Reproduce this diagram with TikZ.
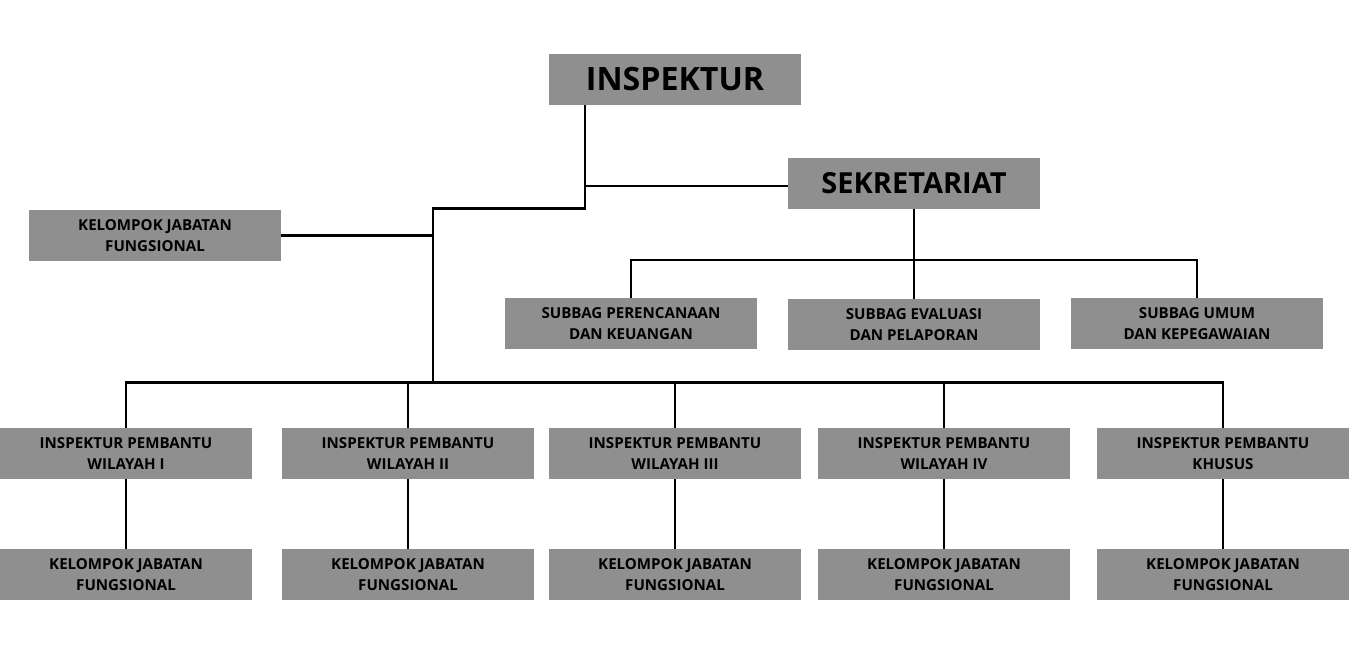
\documentclass[tikz,border=0pt]{standalone}
\usepackage{fontspec}
\setmainfont{Open Sans}
\definecolor{boxgray}{RGB}{143,143,143}
\begin{document}
\begin{tikzpicture}[x=0.2mm, y=-0.2mm,
    unit/.style={fill=boxgray, inner sep=0pt, minimum width=5.04cm, minimum height=1.02cm,
        align=center, font=\fontsize{8.6}{12.3}\selectfont\bfseries},
    head/.style={unit, font=\fontsize{18.3}{20}\selectfont\bfseries},
    link/.style={line width=1.2pt}]
    \useasboundingbox (0,0) rectangle (1350,650);
    % top level
    \node[head] (insp) at (675,79) {INSPEKTUR};
    \node[head, font=\fontsize{16.5}{20}\selectfont\bfseries] (sek) at (914,183.5) {SEKRETARIAT};
    \node[unit] (kjf) at (155,235.5) {KELOMPOK JABATAN\\FUNGSIONAL};
    % subbag
    \node[unit] (sub1) at (631,323.5) {SUBBAG PERENCANAAN\\DAN KEUANGAN};
    \node[unit] (sub2) at (914,324.5) {SUBBAG EVALUASI\\DAN PELAPORAN};
    \node[unit] (sub3) at (1197,323.5) {SUBBAG UMUM\\DAN KEPEGAWAIAN};
    % inspektur pembantu
    \node[unit] (ip1) at (126,453.5) {INSPEKTUR PEMBANTU\\WILAYAH I};
    \node[unit] (ip2) at (408,453.5) {INSPEKTUR PEMBANTU\\WILAYAH II};
    \node[unit] (ip3) at (675,453.5) {INSPEKTUR PEMBANTU\\WILAYAH III};
    \node[unit] (ip4) at (944,453.5) {INSPEKTUR PEMBANTU\\WILAYAH IV};
    \node[unit] (ip5) at (1223,453.5) {INSPEKTUR PEMBANTU\\KHUSUS};
    % kelompok jabatan fungsional
    \node[unit] (kb1) at (126,574.5) {KELOMPOK JABATAN\\FUNGSIONAL};
    \node[unit] (kb2) at (408,574.5) {KELOMPOK JABATAN\\FUNGSIONAL};
    \node[unit] (kb3) at (675,574.5) {KELOMPOK JABATAN\\FUNGSIONAL};
    \node[unit] (kb4) at (944,574.5) {KELOMPOK JABATAN\\FUNGSIONAL};
    \node[unit] (kb5) at (1223,574.5) {KELOMPOK JABATAN\\FUNGSIONAL};

    % junctions
    \coordinate (j1) at (585,186);
    \coordinate (j2) at (585,208.5);
    \coordinate (j3) at (433,208.5);
    \coordinate (j4) at (433,382.5);
    \coordinate (sb) at (914,260);

    % lines
    \draw[link] (insp.south -| j1) -- (j2) -- (j3) -- (j4);
    \draw[link] (j1) -- (sek.west |- j1);
    \draw[link] (kjf.east) -- (kjf.east -| j3);
    \draw[link] (sek.south) -- (sb);
    \draw[link] (sub1.north) |- (sb) -| (sub3.north);
    \draw[link] (sb) -- (sub2.north);
    \draw[link] (ip1.north) |- (j4) -| (ip5.north);
    \draw[link] (ip2.north) -- (ip2.north |- j4);
    \draw[link] (ip3.north) -- (ip3.north |- j4);
    \draw[link] (ip4.north) -- (ip4.north |- j4);
    \draw[link] (ip1) -- (kb1);
    \draw[link] (ip2) -- (kb2);
    \draw[link] (ip3) -- (kb3);
    \draw[link] (ip4) -- (kb4);
    \draw[link] (ip5) -- (kb5);
\end{tikzpicture}
\end{document}
